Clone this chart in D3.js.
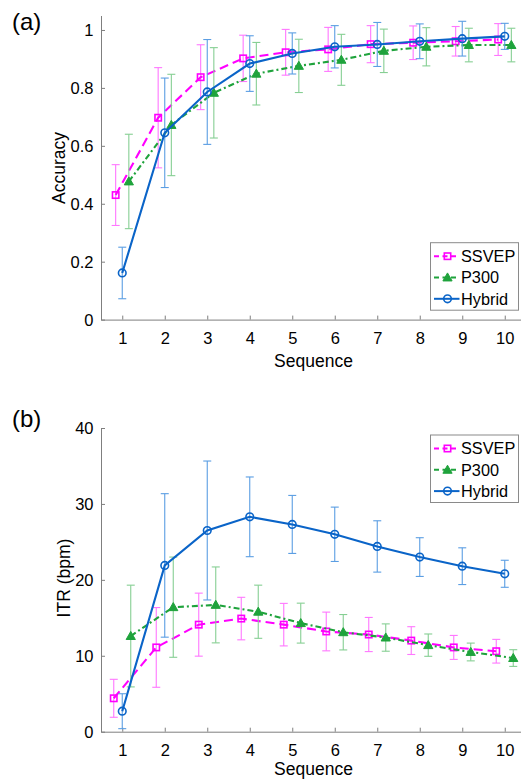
<!DOCTYPE html>
<html>
<head>
<meta charset="utf-8">
<script src="https://cdn.jsdelivr.net/npm/d3@7/dist/d3.min.js"></script>
<style>
  body { margin: 0; background: #fff; }
  svg { display: block; }
  text { font-family: "Liberation Sans", Arial, sans-serif; fill: #000; }
</style>
</head>
<body>
<svg id="chart" width="521" height="780"></svg>
<script>
// Number of stimulus sequences
const sequences = [1, 2, 3, 4, 5, 6, 7, 8, 9, 10];

// (a) Accuracy: mean and standard deviation
const accSSVEP   = [0.430, 0.697, 0.837, 0.902, 0.923, 0.933, 0.951, 0.956, 0.961, 0.967];
const accSSVEPsd = [0.105, 0.173, 0.112, 0.080, 0.079, 0.076, 0.064, 0.058, 0.051, 0.055];
const accP300    = [0.477, 0.672, 0.783, 0.849, 0.876, 0.897, 0.928, 0.942, 0.948, 0.948];
const accP300sd  = [0.163, 0.175, 0.156, 0.108, 0.092, 0.088, 0.075, 0.066, 0.058, 0.058];
const accHybrid  = [0.161, 0.645, 0.786, 0.884, 0.919, 0.942, 0.950, 0.961, 0.970, 0.978];
const accHybridsd= [0.089, 0.189, 0.181, 0.096, 0.071, 0.073, 0.076, 0.060, 0.060, 0.045];

// (b) Information transfer rate (bits per minute): mean and standard deviation
const itrSSVEP   = [4.4, 11.1, 14.1, 14.9, 14.1, 13.2, 12.8, 12.0, 11.1, 10.6];
const itrSSVEPsd = [2.5, 5.25, 4.15, 2.8, 2.8, 2.55, 2.25, 1.83, 1.58, 1.56];
const itrP300    = [12.6, 16.4, 16.7, 15.8, 14.3, 13.1, 12.4, 11.4, 10.5, 9.7];
const itrP300sd  = [6.7, 6.6, 5.0, 3.5, 2.63, 2.33, 1.8, 1.47, 1.17, 1.1];
const itrHybrid  = [2.7, 21.9, 26.5, 28.3, 27.3, 26.0, 24.4, 23.0, 21.8, 20.8];
const itrHybridsd= [2.3, 9.45, 9.15, 5.25, 3.82, 3.58, 3.38, 2.55, 2.42, 1.78];

// Axis ticks
const seqTicks = [1, 2, 3, 4, 5, 6, 7, 8, 9, 10];
const accTicks = [0, 0.2, 0.4, 0.6, 0.8, 1];
const itrTicks = [0, 10, 20, 30, 40];
const seriesNames = ["SSVEP", "P300", "Hybrid"];

// Series styling
const styles = {
  SSVEP:  { color: "#ff00ff", err: "#ff77ff", dash: "9,5",      marker: "square" },
  P300:   { color: "#1fa33c", err: "#86cf93", dash: "6,3,2,3",  marker: "triangle" },
  Hybrid: { color: "#0a64c8", err: "#5b9ee3", dash: null,       marker: "circle" }
};

const svg = d3.select("#chart");
svg.append("rect").attr("width", 521).attr("height", 780).attr("fill", "#fff");

const AXIS = "#7f7f7f";

function drawMarker(g, type, x, y, st) {
  if (type === "square") {
    g.append("rect").attr("x", x - 3.2).attr("y", y - 3.2).attr("width", 6.4).attr("height", 6.4)
      .attr("fill", "none").attr("stroke", st.color).attr("stroke-width", 1.6);
  } else if (type === "triangle") {
    const s = 4.6;
    g.append("path")
      .attr("d", `M${x},${y - s}L${x + s},${y + s * 0.75}L${x - s},${y + s * 0.75}Z`)
      .attr("fill", st.color).attr("stroke", st.color).attr("stroke-width", 1);
  } else {
    g.append("circle").attr("cx", x).attr("cy", y).attr("r", 3.8)
      .attr("fill", "none").attr("stroke", st.color).attr("stroke-width", 1.6);
  }
}

function drawPanel(cfg) {
  const g = svg.append("g");
  const x = d3.scaleLinear().domain([0.5, 10.5]).range([101, 526]);
  const y = d3.scaleLinear().domain(cfg.yDomain).range([cfg.y0, cfg.yTop]);

  // x axis with inward ticks
  const xAxis = d3.axisBottom(x).tickValues(seqTicks).tickSize(-4).tickPadding(10).tickSizeOuter(0);
  const gx = g.append("g").attr("transform", `translate(0,${cfg.y0})`).call(xAxis);
  gx.select(".domain").attr("stroke", AXIS);
  gx.selectAll(".tick line").attr("stroke", AXIS);
  gx.selectAll(".tick text").attr("font-size", 16.5).attr("dy", 0).attr("y", 24.5)
    .style("font-family", "'Liberation Sans', Arial, sans-serif").attr("fill", "#000");

  // y axis with inward ticks
  const yAxis = d3.axisLeft(y).tickValues(cfg.yTicks).tickSize(-4).tickSizeOuter(0)
    .tickFormat(cfg.fmt);
  const gy = g.append("g").attr("transform", "translate(101,0)").call(yAxis);
  gy.select(".domain").attr("stroke", AXIS);
  gy.selectAll(".tick line").attr("stroke", AXIS);
  gy.selectAll(".tick text").attr("font-size", 16.5).attr("x", -7.5).attr("dy", "0.36em")
    .style("font-family", "'Liberation Sans', Arial, sans-serif").attr("fill", "#000");

  // axis titles
  g.append("text").attr("x", x(5.5)).attr("y", cfg.y0 + cfg.xLabelGap).attr("text-anchor", "middle")
    .attr("font-size", 17.5).text("Sequence");
  g.append("text").attr("transform", `translate(${cfg.yLabelX},${cfg.yLabelY}) rotate(-90)`)
    .attr("text-anchor", "middle").attr("font-size", 17.5).text(cfg.yLabel);

  // panel tag
  g.append("text").attr("x", 12).attr("y", cfg.tagY).attr("font-size", 24).text(cfg.tag);

  // series
  cfg.series.forEach((s, i) => {
    const st = styles[s.name];
    const off = s.offset;
    const pts = sequences.map((q, k) => ({ x: x(q + off), m: s.mean[k], sd: s.sd[k] }));
    const sg = g.append("g");
    // error bars
    pts.forEach(p => {
      const yt = y(p.m + p.sd), yb = y(p.m - p.sd);
      sg.append("line").attr("x1", p.x).attr("x2", p.x).attr("y1", yt).attr("y2", yb)
        .attr("stroke", st.err).attr("stroke-width", 1.1);
      [yt, yb].forEach(yy => sg.append("line").attr("x1", p.x - 4).attr("x2", p.x + 4)
        .attr("y1", yy).attr("y2", yy).attr("stroke", st.err).attr("stroke-width", 1.1));
    });
    // mean line
    const line = d3.line().x(p => p.x).y(p => y(p.m));
    sg.append("path").datum(pts).attr("d", line).attr("fill", "none")
      .attr("stroke", st.color).attr("stroke-width", 2.1)
      .attr("stroke-dasharray", st.dash);
    pts.forEach(p => drawMarker(sg, st.marker, p.x, y(p.m), st));
  });

  // legend
  const lg = g.append("g").attr("transform", `translate(430.5,${cfg.legendY})`);
  lg.append("rect").attr("width", 88).attr("height", 67.5).attr("fill", "#fff")
    .attr("stroke", "#8a8a8a").attr("stroke-width", 1);
  seriesNames.forEach((n, i) => {
    const st = styles[n];
    const ry = 13.5 + i * 21.3;
    lg.append("line").attr("x1", 3.5).attr("x2", 29).attr("y1", ry).attr("y2", ry)
      .attr("stroke", st.color).attr("stroke-width", 2)
      .attr("stroke-dasharray", st.dash ? "5,3.5" : null);
    drawMarker(lg, st.marker, 17, ry, st);
    lg.append("text").attr("x", 30.5).attr("y", ry).attr("dy", "0.36em")
      .attr("font-size", 16.3).text(n);
  });
}

drawPanel({
  tag: "(a)", tagY: 30,
  yDomain: [0, 1.05], y0: 319.6, yTop: 15.5,
  yTicks: accTicks, fmt: d => d === 0 || d === 1 ? String(d) : d3.format(".1f")(d),
  yLabel: "Accuracy", yLabelX: 64.5, yLabelY: 168,
  xLabelGap: 47,
  legendY: 242.7,
  series: [
    { name: "SSVEP",  mean: accSSVEP,  sd: accSSVEPsd,  offset: -0.155 },
    { name: "P300",   mean: accP300,   sd: accP300sd,   offset: 0.155 },
    { name: "Hybrid", mean: accHybrid, sd: accHybridsd, offset: 0 }
  ]
});

drawPanel({
  tag: "(b)", tagY: 426.5,
  yDomain: [0, 40], y0: 731.7, yTop: 428,
  yTicks: itrTicks, fmt: d3.format("d"),
  yLabel: "ITR (bpm)", yLabelX: 69.5, yLabelY: 578,
  xLabelGap: 43.5,
  legendY: 435,
  series: [
    { name: "SSVEP",  mean: itrSSVEP,  sd: itrSSVEPsd,  offset: -0.2 },
    { name: "P300",   mean: itrP300,   sd: itrP300sd,   offset: 0.2 },
    { name: "Hybrid", mean: itrHybrid, sd: itrHybridsd, offset: 0 }
  ]
});
</script>
</body>
</html>
